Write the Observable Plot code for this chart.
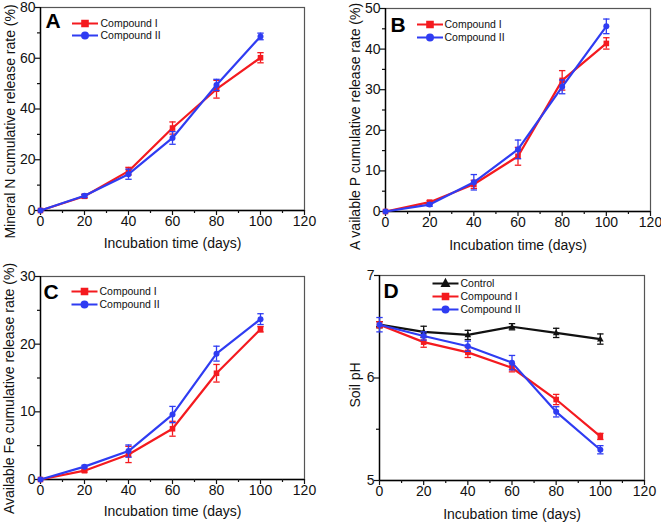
<!DOCTYPE html>
<html><head><meta charset="utf-8">
<script src="https://cdn.jsdelivr.net/npm/d3@7"></script>
<script src="https://cdn.jsdelivr.net/npm/@observablehq/plot@0.6"></script>
<style>
body{margin:0;background:#fff;}
#wrap{position:relative;width:661px;height:523px;background:#fff;}
</style></head><body><div id="wrap"></div>
<script>
// ---------- data ----------
const days = [0, 20, 40, 60, 80, 100];
const xTicks = [0, 20, 40, 60, 80, 100, 120];
const xMinor = [10, 30, 50, 70, 90, 110];
const xLabel = "Incubation time (days)";

// A: mineral N
const nI = [0, 5.6, 15.5, 32.5, 47.8, 60.2];
const nIerr = [0, 0.7, 1.5, 2.4, 3.5, 2.0];
const nII = [0, 5.8, 14.3, 28.6, 49.5, 68.6];
const nIIerr = [0, 0.6, 2.0, 2.5, 2.2, 1.3];
const aTicks = [0, 20, 40, 60, 80];
const aMinor = [10, 30, 50, 70];

// B: available P
const pI = [0, 2.3, 6.7, 13.6, 32.3, 41.4];
const pIerr = [0, 0.4, 1.0, 2.2, 2.4, 1.4];
const pII = [0, 1.7, 7.2, 15.3, 30.7, 45.6];
const pIIerr = [0, 0.4, 1.9, 2.3, 1.7, 1.8];
const bTicks = [0, 10, 20, 30, 40, 50];
const bMinor = [5, 15, 25, 35, 45];

// C: available Fe
const fI = [0, 1.3, 3.7, 7.5, 15.7, 22.2];
const fIerr = [0, 0.2, 1.2, 1.1, 1.3, 0.4];
const fII = [0, 1.9, 4.2, 9.6, 18.6, 23.7];
const fIIerr = [0, 0.2, 0.9, 1.2, 1.1, 0.8];
const cTicks = [0, 10, 20, 30];
const cMinor = [5, 15, 25];

// D: soil pH
const phCtrl = [6.52, 6.45, 6.42, 6.50, 6.44, 6.38];
const phCtrlErr = [0.03, 0.055, 0.045, 0.03, 0.045, 0.05];
const phI = [6.52, 6.35, 6.25, 6.10, 5.79, 5.43];
const phIerr = [0.03, 0.05, 0.05, 0.04, 0.05, 0.03];
const phII = [6.52, 6.41, 6.31, 6.15, 5.67, 5.30];
const phIIerr = [0.07, 0.04, 0.05, 0.07, 0.05, 0.04];
const dTicks = [5, 6, 7];
const dMinor = [5.5, 6.5];

const RED = "#f41a1f", BLUE = "#2f3cf2", BLACK = "#111";
const FONT = "'Liberation Sans', Arial, sans-serif";

// ---------- symbols ----------
const capSym = {draw(ctx) { ctx.moveTo(-3.2, 0); ctx.lineTo(3.2, 0); }};
function shapePath(ctx, shape) {
  if (shape === "square") {
    const s = 2.8; ctx.moveTo(-s, -s); ctx.lineTo(s, -s); ctx.lineTo(s, s); ctx.lineTo(-s, s); ctx.closePath();
  } else if (shape === "circle") {
    const r = 3; ctx.moveTo(r, 0); ctx.arc(0, 0, r, 0, 2 * Math.PI); ctx.closePath();
  } else {
    ctx.moveTo(0, -3.6); ctx.lineTo(3.3, 2.4); ctx.lineTo(-3.3, 2.4); ctx.closePath();
  }
}
function legendSym(shape) {
  return {draw(ctx) { ctx.moveTo(-13, 0); ctx.lineTo(13, 0); shapePath(ctx, shape); }};
}
function markerSym(shape) { return {draw(ctx) { shapePath(ctx, shape); }}; }

// ---------- panel builder ----------
function panel(cfg) {
  const marks = [];
  marks.push(Plot.frame({stroke: "#555", strokeWidth: 1.2}));
  marks.push(Plot.ruleX([0], {stroke: "#000", strokeWidth: 1.4}));
  marks.push(Plot.ruleY([cfg.yDomain[0]], {stroke: "#000", strokeWidth: 1.4}));
  marks.push(Plot.axisX({ticks: xTicks, tickSize: 5, tickPadding: 1, fontSize: 14, label: null, strokeWidth: 1.2, tickFormat: d => String(d)}));
  marks.push(Plot.axisX({ticks: xMinor, tickSize: 3, tickFormat: () => "", label: null, strokeWidth: 1.2}));
  marks.push(Plot.axisY({ticks: cfg.yTicks, tickSize: 5, tickPadding: 0, fontSize: 14, label: null, strokeWidth: 1.2, tickFormat: d => String(d)}));
  marks.push(Plot.axisY({ticks: cfg.yMinor, tickSize: 3, tickFormat: () => "", label: null, strokeWidth: 1.2}));
  for (const s of cfg.series) {
    const rows = days.map((d, i) => ({day: d, v: s.values[i], e: s.err[i]}));
    const er = rows.filter(r => r.e > 0);
    marks.push(Plot.ruleX(er, {x: "day", y1: r => r.v - r.e, y2: r => r.v + r.e, stroke: s.color, strokeWidth: 1.3}));
    marks.push(Plot.dot(er, {x: "day", y: r => r.v - r.e, symbol: capSym, stroke: s.color, strokeWidth: 1.3, r: 3}));
    marks.push(Plot.dot(er, {x: "day", y: r => r.v + r.e, symbol: capSym, stroke: s.color, strokeWidth: 1.3, r: 3}));
    marks.push(Plot.line(rows, {x: "day", y: "v", stroke: s.color, strokeWidth: 2.2}));
    marks.push(Plot.dot(rows, {x: "day", y: "v", symbol: markerSym(s.shape), fill: s.color, stroke: "none", r: 3}));
  }
  // legend
  cfg.series.forEach((s, i) => {
    marks.push(Plot.dot([s.name], {frameAnchor: "top-left", dx: cfg.leg.dx, dy: cfg.leg.dy + i * cfg.leg.step,
      symbol: legendSym(s.shape), stroke: s.color, fill: s.color, strokeWidth: 2, r: 3}));
    marks.push(Plot.text([s.name], {frameAnchor: "top-left", dx: cfg.leg.tx, dy: cfg.leg.dy + i * cfg.leg.step,
      text: d => d, textAnchor: "start", lineAnchor: "middle", fontSize: 10.5, fill: "#111"}));
  });
  // panel letter
  marks.push(Plot.text([cfg.letter], {frameAnchor: "top-left", dx: cfg.letterPos[0], dy: cfg.letterPos[1],
    text: d => d, textAnchor: "start", lineAnchor: "top", fontSize: 21, fontWeight: "bold", fill: "#000"}));
  // axis titles
  marks.push(Plot.text([xLabel], {frameAnchor: "bottom", dy: cfg.xTitleDy, text: d => d,
    textAnchor: "middle", lineAnchor: "middle", fontSize: 14, fill: "#111"}));
  marks.push(Plot.text([cfg.yLabel], {frameAnchor: "left", dx: cfg.yTitle[0], dy: cfg.yTitle[1], text: d => d,
    rotate: -90, textAnchor: "middle", lineAnchor: "middle", fontSize: 14, fill: "#111"}));

  const svg = Plot.plot({
    width: cfg.w, height: cfg.h,
    marginLeft: cfg.m[0], marginRight: cfg.m[1], marginTop: cfg.m[2], marginBottom: cfg.m[3],
    x: {domain: [0, 120]},
    y: {domain: cfg.yDomain},
    style: {fontFamily: FONT, background: "transparent", color: "#111"},
    marks
  });
  svg.style.position = "absolute";
  svg.style.left = cfg.pos[0] + "px";
  svg.style.top = cfg.pos[1] + "px";
  return svg;
}

const wrap = document.getElementById("wrap");
wrap.append(panel({
  pos: [0, 0], w: 330, h: 261, m: [40, 26, 7, 51],
  yDomain: [0, 80], yTicks: aTicks, yMinor: aMinor,
  series: [
    {name: "Compound I", values: nI, err: nIerr, color: RED, shape: "square"},
    {name: "Compound II", values: nII, err: nIIerr, color: BLUE, shape: "circle"}
  ],
  leg: {dx: 44.5, tx: 60, dy: 16, step: 12},
  letter: "A", letterPos: [5, 6],
  yLabel: "Mineral N cumulative release rate (%)", yTitle: [-30, 12.5], xTitleDy: 33
}));
wrap.append(panel({
  pos: [330, 0], w: 331, h: 261, m: [55, 11, 8, 50],
  yDomain: [0, 50], yTicks: bTicks, yMinor: bMinor,
  series: [
    {name: "Compound I", values: pI, err: pIerr, color: RED, shape: "square"},
    {name: "Compound II", values: pII, err: pIIerr, color: BLUE, shape: "circle"}
  ],
  leg: {dx: 44.5, tx: 59, dy: 16, step: 13},
  letter: "B", letterPos: [5, 9],
  yLabel: "A vailable P cumulative release rate (%)", yTitle: [-29.5, 16.5], xTitleDy: 34
}));
wrap.append(panel({
  pos: [0, 261], w: 330, h: 262, m: [40, 26, 15, 44],
  yDomain: [0, 30], yTicks: cTicks, yMinor: cMinor,
  series: [
    {name: "Compound I", values: fI, err: fIerr, color: RED, shape: "square"},
    {name: "Compound II", values: fII, err: fIIerr, color: BLUE, shape: "circle"}
  ],
  leg: {dx: 44, tx: 59, dy: 15, step: 13},
  letter: "C", letterPos: [3, 8],
  yLabel: "Available Fe cumulative release rate (%)", yTitle: [-31, 10.5], xTitleDy: 32
}));
wrap.append(panel({
  pos: [330, 261], w: 331, h: 262, m: [49, 17, 14, 43],
  yDomain: [5, 7], yTicks: dTicks, yMinor: dMinor,
  series: [
    {name: "Control", values: phCtrl, err: phCtrlErr, color: BLACK, shape: "triangle"},
    {name: "Compound I", values: phI, err: phIerr, color: RED, shape: "square"},
    {name: "Compound II", values: phII, err: phIIerr, color: BLUE, shape: "circle"}
  ],
  leg: {dx: 66, tx: 81, dy: 8, step: 13},
  letter: "D", letterPos: [4, 8],
  yLabel: "Soil pH", yTitle: [-24, 7], xTitleDy: 34
}));
</script>
</body></html>
